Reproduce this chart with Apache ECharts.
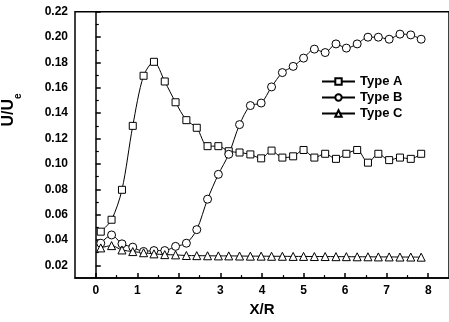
<!DOCTYPE html>
<html>
<head>
<meta charset="utf-8">
<script src="https://cdn.jsdelivr.net/npm/echarts@6/dist/echarts.min.js"></script>
<style>
  html, body { margin: 0; padding: 0; background: #fff; }
  #chart { width: 449px; height: 322px; }
</style>
</head>
<body>
<div id="chart"></div>
<script>
// Axial positions X/R of the measurement stations
var xr = [0.12, 0.38, 0.63, 0.89, 1.15, 1.40, 1.66, 1.92, 2.18, 2.43, 2.69,
          2.95, 3.20, 3.46, 3.72, 3.98, 4.23, 4.49, 4.75, 5.00, 5.26, 5.52,
          5.78, 6.03, 6.29, 6.55, 6.80, 7.06, 7.32, 7.58, 7.83];

// Velocity ratio U/Ue for each configuration
var typeA = [0.0466, 0.056, 0.0796, 0.130, 0.1695, 0.1805, 0.165, 0.1486, 0.1345, 0.1285, 0.114,
             0.114, 0.110, 0.109, 0.1075, 0.1044, 0.1105, 0.105, 0.106, 0.111, 0.105, 0.108,
             0.104, 0.108, 0.111, 0.101, 0.108, 0.103, 0.105, 0.104, 0.108];
var typeB = [0.0375, 0.044, 0.037, 0.0344, 0.031, 0.0317, 0.0317, 0.035, 0.0375, 0.0482, 0.0722,
             0.0918, 0.1076, 0.131, 0.146, 0.148, 0.1607, 0.172, 0.1769, 0.1834, 0.1905, 0.1878,
             0.1946, 0.1913, 0.1946, 0.1999, 0.1999, 0.1983, 0.2023, 0.2017, 0.1983];
var typeC = [0.0338, 0.0356, 0.0322, 0.0309, 0.0300, 0.0291, 0.0285, 0.0283, 0.0278, 0.0277, 0.0276,
             0.0275, 0.0275, 0.0274, 0.0273, 0.0273, 0.0272, 0.0272, 0.0271, 0.0271, 0.0270, 0.0270,
             0.0269, 0.0269, 0.0268, 0.0268, 0.0267, 0.0267, 0.0266, 0.0266, 0.0265];

var seriesNames = ['Type A', 'Type B', 'Type C'];

// Tick positions
var xMajor = [0, 1, 2, 3, 4, 5, 6, 7, 8];
var xMinor = [0.5, 1.5, 2.5, 3.5, 4.5, 5.5, 6.5, 7.5];
var yMajor = [0.02, 0.04, 0.06, 0.08, 0.10, 0.12, 0.14, 0.16, 0.18, 0.20, 0.22];
var yMinor = [0.03, 0.05, 0.07, 0.09, 0.11, 0.13, 0.15, 0.17, 0.19, 0.21];

var FONT = '"Liberation Sans", Arial, sans-serif';

function pairs(xs, ys) {
  return xs.map(function (x, i) { return [x, ys[i]]; });
}

var chart = echarts.init(document.getElementById('chart'), null, { renderer: 'canvas' });

var labelStyle = { color: '#000', fontFamily: FONT, fontWeight: 'bold', fontSize: 12 };

function lineSeries(name, values, symbol, size) {
  return {
    name: name,
    type: 'line',
    xAxisIndex: 0,
    yAxisIndex: 0,
    data: pairs(xr, values),
    smooth: 0.3,
    symbol: symbol,
    symbolSize: size,
    showSymbol: true,
    lineStyle: { color: '#000', width: 1 },
    itemStyle: { color: '#fff', borderColor: '#000', borderWidth: 1 },
    emphasis: { disabled: true }
  };
}

chart.setOption({
  animation: false,
  backgroundColor: '#fff',
  grid: [{
    left: 75, top: 11.7, width: 375, height: 267.6,
    show: true, borderColor: '#000', borderWidth: 1.5, backgroundColor: 'transparent'
  }, {
    // helper grid that only carries the vertical axis title, set higher than the plot centre
    left: 75, top: 70, width: 10, height: 80, show: false
  }],
  legend: {
    data: seriesNames,
    orient: 'vertical',
    left: 316, top: 70,
    itemWidth: 33, itemHeight: 8, itemGap: 3,
    textStyle: { color: '#000', fontFamily: FONT, fontWeight: 'bold', fontSize: 13 },
    selectedMode: false
  },
  xAxis: [{
    type: 'value', min: -0.5, max: 8.5, gridIndex: 0,
    name: 'X/R', nameLocation: 'middle', nameGap: 22,
    nameTextStyle: { color: '#000', fontFamily: FONT, fontWeight: 'bold', fontSize: 15 },
    axisLine: { show: true, lineStyle: { color: '#000', width: 1.5 } },
    axisTick: { show: true, inside: true, length: 5, customValues: xMajor, lineStyle: { color: '#000', width: 1.5 } },
    axisLabel: Object.assign({ customValues: xMajor, margin: 7, formatter: function (v) { return String(v); } }, labelStyle),
    splitLine: { show: false }
  }, {
    type: 'value', min: -0.5, max: 8.5, position: 'bottom', gridIndex: 0,
    axisLine: { show: false },
    axisTick: { show: true, inside: true, length: 3, customValues: xMinor, lineStyle: { color: '#000', width: 1.2 } },
    axisLabel: { show: false },
    splitLine: { show: false }
  }, {
    type: 'value', gridIndex: 1, show: false
  }],
  yAxis: [{
    type: 'value', min: 0.01, max: 0.22, gridIndex: 0,
    axisLine: { show: true, lineStyle: { color: '#000', width: 1.5 } },
    axisTick: { show: true, inside: true, length: 5, customValues: yMajor, lineStyle: { color: '#000', width: 1.5 } },
    axisLabel: Object.assign({ customValues: yMajor, margin: 7, formatter: function (v) { return v.toFixed(2); } }, labelStyle),
    splitLine: { show: false }
  }, {
    type: 'value', min: 0.01, max: 0.22, position: 'left', gridIndex: 0,
    axisLine: { show: false },
    axisTick: { show: true, inside: true, length: 3, customValues: yMinor, lineStyle: { color: '#000', width: 1.2 } },
    axisLabel: { show: false },
    splitLine: { show: false }
  }, {
    type: 'value', gridIndex: 1, position: 'left',
    name: '{a|U/U}{s|e}', nameLocation: 'middle', nameGap: 52, nameRotate: 90,
    nameTextStyle: {
      color: '#000',
      rich: {
        a: { fontFamily: FONT, fontWeight: 'bold', fontSize: 16, lineHeight: 16, verticalAlign: 'top', color: '#000' },
        s: { fontFamily: FONT, fontWeight: 'bold', fontSize: 10, lineHeight: 22, verticalAlign: 'bottom', color: '#000' }
      }
    },
    axisLine: { show: false }, axisTick: { show: false }, axisLabel: { show: false }, splitLine: { show: false }
  }],
  series: [
    lineSeries('Type A', typeA, 'rect', 7),
    lineSeries('Type B', typeB, 'circle', 8),
    lineSeries('Type C', typeC, 'triangle', 8)
  ]
});
</script>
</body>
</html>
